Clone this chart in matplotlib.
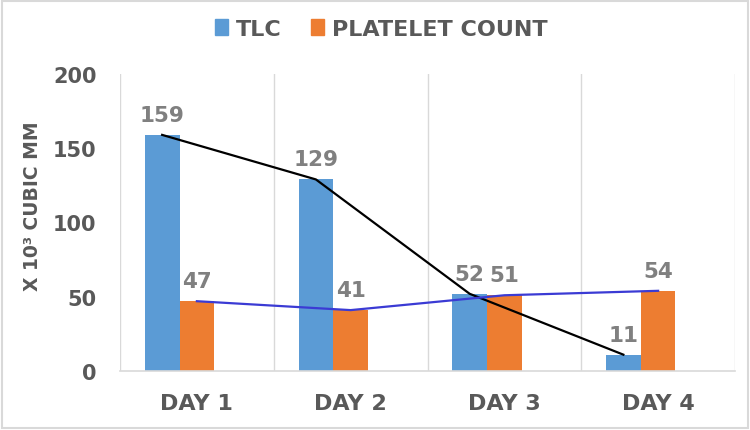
import matplotlib
matplotlib.use("Agg")
import matplotlib.pyplot as plt
import matplotlib.patches as mpatches
import numpy as np

categories = ["DAY 1", "DAY 2", "DAY 3", "DAY 4"]
tlc = [159, 129, 52, 11]
platelet = [47, 41, 51, 54]
yticks = [0, 50, 100, 150, 200]

BLUE = "#5B9BD5"
ORANGE = "#ED7D31"
TXT = "#595959"
LBL = "#808080"
GRID = "#D9D9D9"

plt.rcParams['font.family'] = ['DejaVu Sans']
plt.rcParams['font.weight'] = 'bold'

fig = plt.figure(figsize=(7.5, 4.31), dpi=100)
ax = fig.add_axes([120/750, 59/431, 615/750, 297/431])

x = np.arange(len(categories))
w = 0.226
b1 = ax.bar(x - w, tlc, width=w, color=BLUE, label="TLC", zorder=2)
b2 = ax.bar(x, platelet, width=w, color=ORANGE, label="PLATELET COUNT", zorder=2)

ax.plot(x - w, tlc, color="black", lw=1.6, zorder=3)
ax.plot(x, platelet, color="#3B3BD4", lw=1.6, zorder=3)

for xi, v in zip(x - w, tlc):
    ax.annotate(str(v), (xi, v), xytext=(0, 10), textcoords="offset pixels",
                ha="center", va="bottom", fontsize=15.5, color=LBL, fontweight="bold")
for xi, v in zip(x, platelet):
    ax.annotate(str(v), (xi, v), xytext=(0, 10), textcoords="offset pixels",
                ha="center", va="bottom", fontsize=15.5, color=LBL, fontweight="bold")

ax.set_xlim(-0.5, 3.5)
ax.set_ylim(0, 200)
ax.set_yticks(yticks)
ax.set_yticklabels([str(t) for t in yticks], fontsize=15, color=TXT, fontweight="bold")
ax.set_xticks(x)
ax.set_xticklabels(categories, fontsize=16, color=TXT, fontweight="bold")
ax.tick_params(axis="both", length=0)
ax.tick_params(axis="y", pad=17)
ax.tick_params(axis="x", pad=16)

for xv in [-0.5, 0.5, 1.5, 2.5, 3.5]:
    ax.axvline(xv, color=GRID, lw=1.0, zorder=1)
for s in ["top", "right", "left"]:
    ax.spines[s].set_visible(False)
ax.spines["bottom"].set_color(GRID)
ax.spines["bottom"].set_linewidth(1.2)

fig.text(33/750, 1 - 206/431, "X 10³ CUBIC MM", rotation=90, ha="center", va="center",
         fontsize=13.5, color=TXT, fontweight="bold")

handles = [mpatches.Patch(color=BLUE, label="TLC"),
           mpatches.Patch(color=ORANGE, label="PLATELET COUNT")]
leg = fig.legend(handles=handles, loc="center", bbox_to_anchor=(381/750, 1 - 30/431),
                 ncol=2, frameon=False, fontsize=16, handlelength=0.6, handleheight=0.75,
                 handletextpad=0.35, columnspacing=1.3)
for t in leg.get_texts():
    t.set_color(TXT)
    t.set_fontweight("bold")

fig.patches.append(mpatches.Rectangle((0.003, 0.004), 0.994, 0.992, transform=fig.transFigure,
                                      fill=False, edgecolor=GRID, lw=1.5))

fig.savefig("out.png", dpi=100)
